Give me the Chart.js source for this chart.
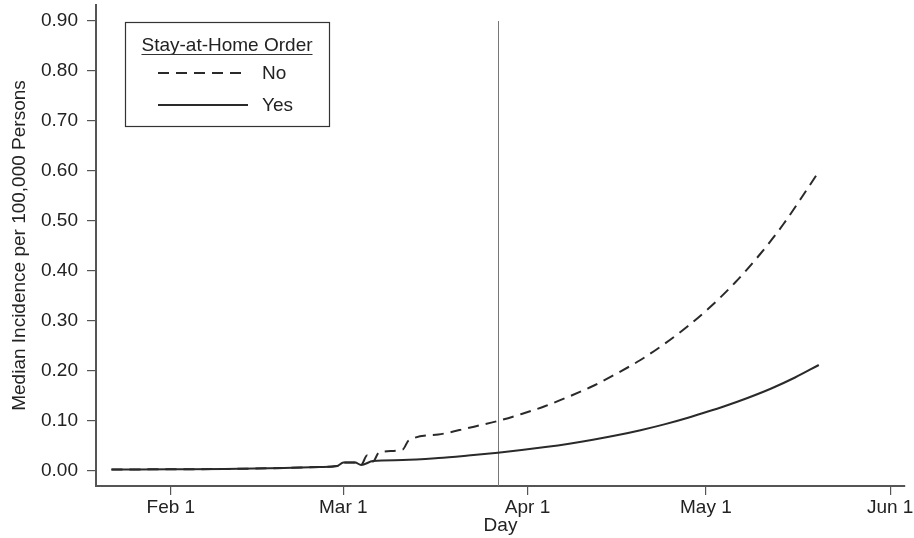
<!DOCTYPE html>
<html>
<head>
<meta charset="utf-8">
<script src="https://cdn.jsdelivr.net/npm/chart.js@4.4.1/dist/chart.umd.min.js"></script>
<style>
  html, body { margin: 0; padding: 0; background: #fff; }
  #wrap { width: 914px; height: 538px; }
</style>
</head>
<body>
<div id="wrap"><canvas id="incidence"></canvas></div>
<script>
// day numbers count from Jan 1 2020 (Jan 1 = 0, Feb 1 = 31, Mar 1 = 60 ...)
const noDays = [21, 31, 40, 50, 56, 59, 60, 62, 63, 64, 65, 66, 70, 71, 76, 81, 86, 90, 94, 98, 102, 106, 110, 114, 118, 122, 126, 130, 134, 138, 140];
const noValues = [0.003, 0.0035, 0.004, 0.006, 0.008, 0.010, 0.017, 0.017, 0.012, 0.031, 0.019, 0.037, 0.043, 0.061, 0.073, 0.086, 0.100, 0.114, 0.130, 0.149, 0.170, 0.195, 0.222, 0.254, 0.290, 0.331, 0.378, 0.432, 0.493, 0.563, 0.599];

const yesDays = [21, 31, 40, 50, 56, 59, 60, 62, 63, 65, 70, 76, 81, 86, 90, 94, 98, 102, 106, 110, 114, 118, 120, 124, 128, 132, 136, 140];
const yesValues = [0.003, 0.0035, 0.004, 0.006, 0.008, 0.010, 0.017, 0.017, 0.012, 0.020, 0.022, 0.026, 0.031, 0.0366, 0.0418, 0.0478, 0.0546, 0.0624, 0.0713, 0.0815, 0.0932, 0.1065, 0.114, 0.129, 0.146, 0.165, 0.187, 0.212];

const tickDays = [31, 60, 91, 121, 152];
const tickLabels = ['Feb 1', 'Mar 1', 'Apr 1', 'May 1', 'Jun 1'];
const yTicks = [0, 0.1, 0.2, 0.3, 0.4, 0.5, 0.6, 0.7, 0.8, 0.9];
const orderDay = 86; // Mar 27 reference line
const legendTitle = 'Stay-at-Home Order';
const legendLabels = ['No', 'Yes'];

const FONT = '"Liberation Sans", Arial, Helvetica, sans-serif';
const INK = '#222';
const AXIS = '#555';

function toPoints(days, vals) {
  return days.map((d, i) => ({ x: d, y: vals[i] }));
}

// thin vertical line at the order date, up to the top tick
const refLine = {
  id: 'refLine',
  beforeDatasetsDraw(chart) {
    const { ctx, chartArea, scales } = chart;
    const px = Math.round(scales.x.getPixelForValue(orderDay)) + 0.5;
    const top = scales.y.getPixelForValue(yTicks[yTicks.length - 1]);
    ctx.save();
    ctx.strokeStyle = '#777';
    ctx.lineWidth = 1;
    ctx.beginPath();
    ctx.moveTo(px, top);
    ctx.lineTo(px, chartArea.bottom);
    ctx.stroke();
    ctx.restore();
  }
};

// boxed legend with underlined title, drawn inside the plot
const boxLegend = {
  id: 'boxLegend',
  afterDraw(chart) {
    const ctx = chart.ctx;
    const a = chart.chartArea;
    const x = a.left + 29, y = a.top + 17, w = 204, h = 104;
    ctx.save();
    ctx.fillStyle = '#fff';
    ctx.fillRect(x, y, w, h);
    ctx.strokeStyle = '#333';
    ctx.lineWidth = 1.2;
    ctx.strokeRect(x + 0.5, y + 0.5, w, h);

    ctx.font = '19px ' + FONT;
    ctx.fillStyle = INK;
    ctx.textAlign = 'center';
    ctx.textBaseline = 'alphabetic';
    ctx.fillText(legendTitle, x + w / 2, y + 29);
    const tw = ctx.measureText(legendTitle).width;
    ctx.lineWidth = 1.2;
    ctx.beginPath();
    ctx.moveTo(x + w / 2 - tw / 2, y + 32.5);
    ctx.lineTo(x + w / 2 + tw / 2, y + 32.5);
    ctx.stroke();

    chart.data.datasets.forEach((ds, i) => {
      const ly = y + 51 + i * 32;
      ctx.strokeStyle = ds.borderColor;
      ctx.lineWidth = ds.borderWidth;
      ctx.setLineDash(ds.borderDash || []);
      ctx.beginPath();
      ctx.moveTo(x + 33, ly);
      ctx.lineTo(x + 123, ly);
      ctx.stroke();
      ctx.setLineDash([]);
      ctx.textAlign = 'left';
      ctx.textBaseline = 'middle';
      ctx.fillText(legendLabels[i], x + 137, ly + 1);
    });
    ctx.restore();
  }
};

const chart = new Chart(document.getElementById('incidence'), {
  type: 'line',
  data: {
    datasets: [
      {
        label: legendLabels[0],
        data: toPoints(noDays, noValues),
        borderColor: '#2a2a2a',
        borderWidth: 2,
        borderDash: [11, 7],
        pointRadius: 0,
        cubicInterpolationMode: 'monotone',
        fill: false
      },
      {
        label: legendLabels[1],
        data: toPoints(yesDays, yesValues),
        borderColor: '#2a2a2a',
        borderWidth: 2,
        pointRadius: 0,
        cubicInterpolationMode: 'monotone',
        fill: false
      }
    ]
  },
  options: {
    responsive: true,
    maintainAspectRatio: false,
    animation: false,
    layout: { padding: { top: 5, right: 9, left: 0, bottom: 0 } },
    plugins: {
      legend: { display: false },
      tooltip: { enabled: false }
    },
    scales: {
      x: {
        type: 'linear',
        min: 18.4,
        max: 154.5,
        afterBuildTicks: (s) => { s.ticks = tickDays.map(v => ({ value: v })); },
        afterFit: (s) => { s.height = 52; s.paddingLeft = 0; s.paddingRight = 0; },
        ticks: {
          autoSkip: false,
          maxRotation: 0,
          padding: 1,
          color: INK,
          font: { family: FONT, size: 19 },
          callback: (v) => tickLabels[tickDays.indexOf(v)]
        },
        grid: { drawOnChartArea: false, drawTicks: true, tickLength: 9, color: AXIS, lineWidth: 1.2 },
        border: { display: true, color: AXIS, width: 2 },
        title: {
          display: true,
          text: 'Day',
          color: INK,
          font: { family: FONT, size: 19 },
          padding: { top: 0, bottom: 1 }
        }
      },
      y: {
        min: -0.03,
        max: 0.932,
        afterBuildTicks: (s) => { s.ticks = yTicks.map(v => ({ value: v })); },
        afterFit: (s) => { s.width = 96; s.paddingTop = 0; s.paddingBottom = 0; },
        ticks: {
          padding: 9,
          color: INK,
          font: { family: FONT, size: 19 },
          callback: (v) => Number(v).toFixed(2)
        },
        grid: { drawOnChartArea: false, drawTicks: true, tickLength: 9, color: AXIS, lineWidth: 1.2 },
        border: { display: true, color: AXIS, width: 2 },
        title: {
          display: true,
          text: 'Median Incidence per 100,000 Persons',
          color: INK,
          font: { family: FONT, size: 19 },
          padding: { top: 8, bottom: 0 }
        }
      }
    }
  },
  plugins: [refLine, boxLegend]
});
</script>
</body>
</html>
